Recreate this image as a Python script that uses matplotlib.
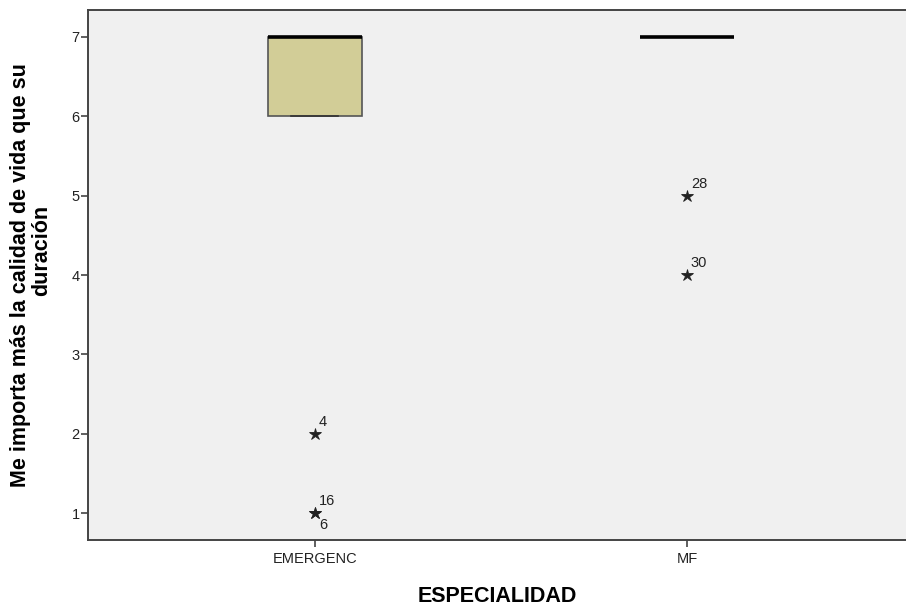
import matplotlib.pyplot as plt

plt.rcParams['font.family'] = ['Liberation Sans', 'DejaVu Sans']

# DATA
categories = ['EMERGENC', 'MF']
q1_vals = [6, 7]
medians = [7, 7]
q3_vals = [7, 7]
whisk_lo = [6, 7]
whisk_hi = [7, 7]

# extreme values (category index, value, case label, label below?)
out_cat = [0, 0, 0, 1, 1]
out_val = [2, 1, 1, 5, 4]
out_lab = ['4', '16', '6', '28', '30']
out_below = [False, False, True, False, False]

y_label_lines = ['Me importa más la calidad de vida que su', 'duración']
x_label = 'ESPECIALIDAD'

BOX_COLOR = '#D2CD97'
BG_COLOR = '#F0F0F0'

fig = plt.figure(figsize=(9.06, 6.07), dpi=100)
ax = fig.add_axes([0.0971, 0.1104, 0.9029, 0.8731])
ax.set_facecolor(BG_COLOR)

stats = []
for i, name in enumerate(categories):
    stats.append({'label': name, 'med': medians[i], 'q1': q1_vals[i], 'q3': q3_vals[i],
                  'whislo': whisk_lo[i], 'whishi': whisk_hi[i], 'fliers': []})

positions = list(range(1, len(categories) + 1))
ax.bxp(stats, positions=positions, widths=0.253, capwidths=0.126, patch_artist=True,
       showfliers=False,
       boxprops=dict(facecolor=BOX_COLOR, edgecolor='#555555', linewidth=1.2),
       medianprops=dict(color='black', linewidth=2.6),
       whiskerprops=dict(color='#333333', linewidth=1.2),
       capprops=dict(color='#333333', linewidth=1.2))

# extreme values as stars with case numbers
for c, v, lab, below in zip(out_cat, out_val, out_lab, out_below):
    x = positions[c]
    ax.plot(x, v, marker='*', color='#222222', markersize=9, markeredgewidth=0.6,
            linestyle='none', zorder=3)
    if below:
        ax.annotate(lab, (x, v), xytext=(4, -5), textcoords='offset pixels',
                    ha='left', va='top', fontsize=10.5, color='#222222')
    else:
        ax.annotate(lab, (x, v), xytext=(4, 5), textcoords='offset pixels',
                    ha='left', va='bottom', fontsize=10.5, color='#222222')

ax.set_xlim(0.39, 2.589)
ax.set_ylim(0.66, 7.34)
ax.set_yticks(range(1, 8))
ax.set_xticks(positions)
ax.set_xticklabels(categories)

for side in ['left', 'bottom', 'top']:
    ax.spines[side].set_color('#444444')
    ax.spines[side].set_linewidth(1.4)
ax.spines['right'].set_visible(False)

ax.tick_params(axis='both', direction='out', length=5, width=1.2, color='#444444',
               labelcolor='#222222')
ax.tick_params(axis='y', labelsize=10.5, pad=1)
ax.tick_params(axis='x', labelsize=10.5, pad=4)

# y label: two lines as SPSS places them
fig.text(21 / 906, 1 - 275 / 607, y_label_lines[0], rotation=90, fontsize=15.5,
         fontweight='bold', ha='center', va='center')
fig.text(42 / 906, 1 - 250 / 607, y_label_lines[1], rotation=90, fontsize=15.5,
         fontweight='bold', ha='center', va='center')
ax.set_xlabel(x_label, fontsize=15.5, fontweight='bold', labelpad=14)

fig.savefig('out.png', dpi=100)
